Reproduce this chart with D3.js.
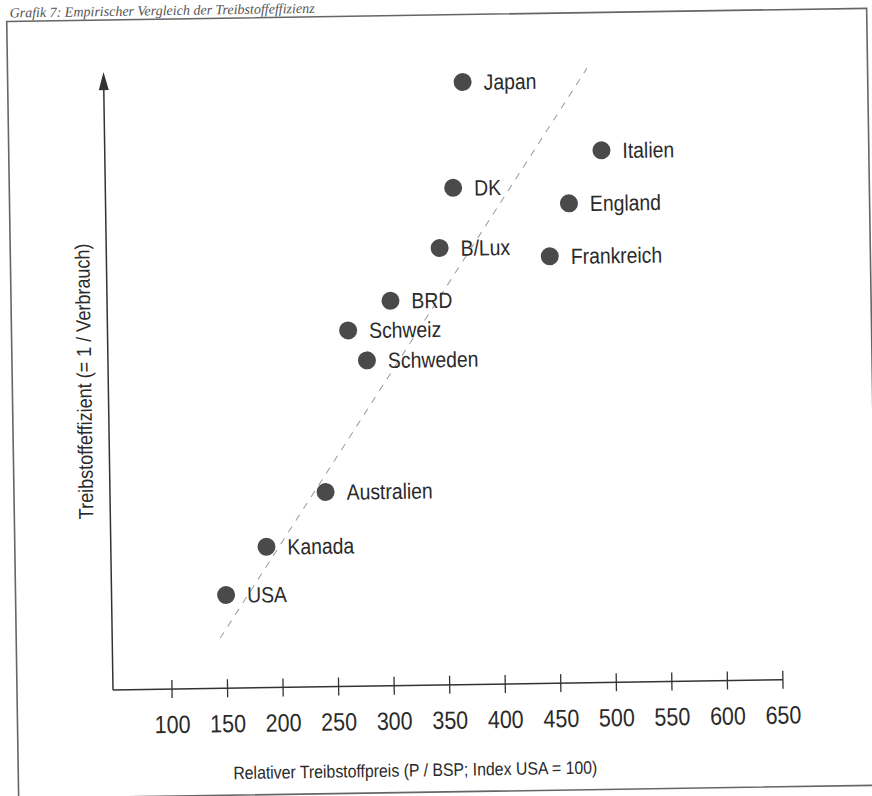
<!DOCTYPE html>
<html>
<head>
<meta charset="utf-8">
<script src="https://cdn.jsdelivr.net/npm/d3@7"></script>
<style>
  html, body { margin: 0; padding: 0; background: #ffffff; }
  svg { display: block; }
</style>
</head>
<body>
<svg id="chart" width="872" height="796"></svg>
<script>
// ---- data ----
const countries  = ["Japan", "Italien", "DK", "England", "B/Lux", "Frankreich", "BRD", "Schweiz", "Schweden", "Australien", "Kanada", "USA"];
const price      = [370, 494, 360, 464, 347, 446, 302, 263.5, 280, 241, 187, 150];
const efficiency = [97.5, 86.1, 80.4, 77.6, 70.7, 69.1, 62.3, 57.6, 52.7, 31.5, 22.8, 15.1];
const trendPrice = [144, 482];
const trendEff   = [8.1, 99.4];
const xTicks     = [100, 150, 200, 250, 300, 350, 400, 450, 500, 550, 600, 650];
const xTitle     = "Relativer Treibstoffpreis (P / BSP; Index USA = 100)";
const yTitle     = "Treibstoffeffizient (= 1 / Verbrauch)";
const pageTitle  = "Grafik 7: Empirischer Vergleich der Treibstoffeffizienz";

// ---- layout ----
const origin = { x: 113, y: 690 };
const sans = "'Liberation Sans', Arial, 'Helvetica', sans-serif";
const narrow = 0.88;   // condensed look (Helvetica Condensed style)

const x = d3.scaleLinear().domain([100, 650]).range([172, 783]);
const y = d3.scaleLinear().domain([0, 100]).range([origin.y, 72]);

const svg = d3.select("#chart");
const root = svg.append("g")
  .attr("transform", `rotate(-0.88, ${origin.x}, ${origin.y})`);

// page title (above the frame)
root.append("text")
  .attr("x", 20).attr("y", 16)
  .attr("font-family", "'Liberation Serif', 'DejaVu Serif', serif")
  .attr("font-style", "italic")
  .attr("font-size", 14)
  .attr("fill", "#555")
  .text(pageTitle);

// frame
root.append("rect")
  .attr("x", 17).attr("y", 20)
  .attr("width", 860).attr("height", 777)
  .attr("fill", "none")
  .attr("stroke", "#666")
  .attr("stroke-width", 1.6);

// x axis line from origin to end tick
root.append("line")
  .attr("x1", origin.x).attr("y1", origin.y)
  .attr("x2", x(650)).attr("y2", origin.y)
  .attr("stroke", "#333").attr("stroke-width", 1.5);

// y axis with arrow
root.append("line")
  .attr("x1", origin.x).attr("y1", origin.y)
  .attr("x2", origin.x).attr("y2", y(100) + 12)
  .attr("stroke", "#333").attr("stroke-width", 1.5);
root.append("path")
  .attr("d", d3.line()([[origin.x - 5, y(100) + 18], [origin.x, y(100)], [origin.x + 5, y(100) + 18]]) + "Z")
  .attr("fill", "#333");

// x axis ticks (crossing) and labels
const tickG = root.append("g");
tickG.selectAll("line.tick").data(xTicks).join("line")
  .attr("class", "tick")
  .attr("x1", d => x(d)).attr("x2", d => x(d))
  .attr("y1", origin.y - 9).attr("y2", origin.y + 9)
  .attr("stroke", "#333").attr("stroke-width", 1.3);
tickG.selectAll("text").data(xTicks).join("text")
  .attr("transform", d => `translate(${x(d)},${origin.y + 44}) scale(0.86,1)`)
  .attr("text-anchor", "middle")
  .attr("font-family", sans)
  .attr("font-size", 25)
  .attr("fill", "#2a2a2a")
  .text(d => d);

// axis titles
root.append("text")
  .attr("transform", `translate(414,781) scale(${narrow},1)`)
  .attr("text-anchor", "middle")
  .attr("font-family", sans)
  .attr("font-size", 18)
  .attr("fill", "#2a2a2a")
  .text(xTitle);

root.append("text")
  .attr("transform", `translate(96, 381) rotate(-90) scale(${narrow},1)`)
  .attr("text-anchor", "middle")
  .attr("font-family", sans)
  .attr("font-size", 20.5)
  .attr("fill", "#2a2a2a")
  .text(yTitle);

// dashed trend line
root.append("line")
  .attr("x1", x(trendPrice[0])).attr("y1", y(trendEff[0]))
  .attr("x2", x(trendPrice[1])).attr("y2", y(trendEff[1]))
  .attr("stroke", "#9a9a9a").attr("stroke-width", 1)
  .attr("stroke-dasharray", "7,7");

// points
const pts = countries.map((c, i) => ({ name: c, px: price[i], ef: efficiency[i] }));
const ptG = root.append("g");
ptG.selectAll("circle").data(pts).join("circle")
  .attr("cx", d => x(d.px)).attr("cy", d => y(d.ef))
  .attr("r", 9)
  .attr("fill", "#4a4a4a");
ptG.selectAll("text").data(pts).join("text")
  .attr("transform", d => `translate(${x(d.px) + 21},${y(d.ef) + 8}) scale(${narrow},1)`)
  .attr("font-family", sans)
  .attr("font-size", 22)
  .attr("fill", "#2a2a2a")
  .text(d => d.name);
</script>
</body>
</html>
